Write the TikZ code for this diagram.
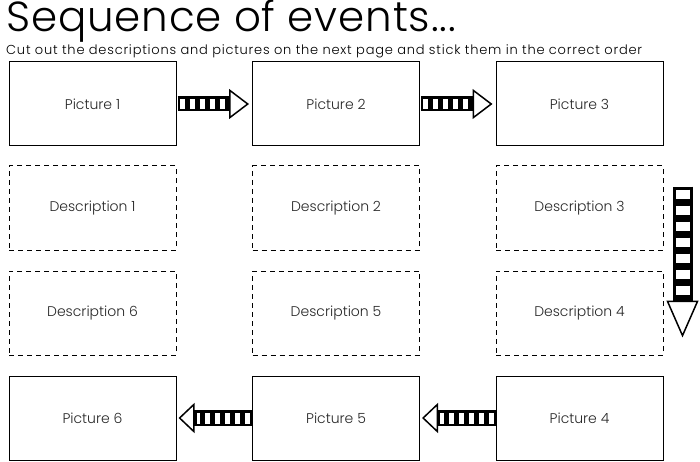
\documentclass[tikz,border=0pt]{standalone}
\usepackage{fontspec}
\setmainfont{Poppins Light}
\newfontfamily\titlefont[LetterSpace=2]{Poppins Light}
\newfontfamily\subtitlefont[LetterSpace=6]{Poppins Light}
\usetikzlibrary{calc,arrows.meta}

\begin{document}
\begin{tikzpicture}[x=1pt,y=1pt,picture/.style={draw,line width=1pt,minimum width=167pt,minimum height=84pt,font=\fontsize{14}{16}\selectfont,text=black!85},description/.style={picture,dash pattern=on 5pt off 4pt}, shaft/.style={line width=15pt}, stripes/.style={white,line width=10pt,dash pattern=on 5pt off 5pt}, head/.style={-{Triangle[length=20pt,width=30pt,fill=white,line width=1.5pt]}}]
  \useasboundingbox (0,0) rectangle (700,461);

  \node[anchor=base west,inner sep=0pt,font=\titlefont\fontsize{42}{42}\selectfont] (title) at (6,429) {Sequence of events...};
  \node[anchor=base west,inner sep=0pt,font=\subtitlefont\fontsize{13}{14}\selectfont] (subtitle) at (6,406) {Cut out the descriptions and pictures on the next page and stick them in the correct order};

  \node[picture] (pic1) at (92.5,357) {Picture 1};
  \node[picture] (pic2) at ($ (pic1) + (243.5,0) $) {Picture 2};
  \node[picture] (pic3) at ($ (pic2) + (243.5,0) $) {Picture 3};

  \node[description] (desc1) at ($ (pic1) + (0,-104) $) {Description 1};
  \node[description] (desc2) at ($ (pic2) + (0,-104) $) {Description 2};
  \node[description] (desc3) at ($ (pic3) + (0,-104) $) {Description 3};

  \node[description] (desc6) at ($ (desc1) + (0,-105) $) {Description 6};
  \node[description] (desc5) at ($ (desc2) + (0,-105) $) {Description 5};
  \node[description] (desc4) at ($ (desc3) + (0,-105) $) {Description 4};

  \node[picture] (pic6) at ($ (desc6) + (0,-105) $) {Picture 6};
  \node[picture] (pic5) at ($ (desc5) + (0,-105) $) {Picture 5};
  \node[picture] (pic4) at ($ (desc4) + (0,-105) $) {Picture 4};

  \coordinate (down top) at ($ (pic3.south east) + (19,-40) $);
  \coordinate (down tip) at ($ (desc4.south east) + (19,18) $);

  \draw[shaft,head] ($ (pic1.east) + (1,0) $) -- ($ (pic2.west) + (-3,0) $);
  \draw[stripes] ($ (pic1.east) + (3,0) $) -- ($ (pic2.west) + (-24,0) $);
  \draw[shaft,head] ($ (pic2.east) + (1,0) $) -- ($ (pic3.west) + (-3,0) $);
  \draw[stripes] ($ (pic2.east) + (3,0) $) -- ($ (pic3.west) + (-24,0) $);

  \draw[shaft,line width=20pt,-{Triangle[length=37pt,width=32pt,fill=white,line width=1.5pt]}] (down top) -- (down tip);
  \draw[stripes,line width=14pt,dash pattern=on 9pt off 7pt] ($ (down top) + (0,-3) $) -- ($ (down tip) + (0,40) $);

  \draw[shaft,line width=16pt,-{Triangle[length=16pt,width=30pt,fill=white,line width=1.5pt]}] (pic4.west) -- ($ (pic5.east) + (2,0) $);
  \draw[stripes,line width=11pt] ($ (pic4.west) + (-2,0) $) -- ($ (pic5.east) + (20,0) $);
  \draw[shaft,line width=16pt,-{Triangle[length=16pt,width=30pt,fill=white,line width=1.5pt]}] (pic5.west) -- ($ (pic6.east) + (2,0) $);
  \draw[stripes,line width=11pt] ($ (pic5.west) + (-2,0) $) -- ($ (pic6.east) + (20,0) $);
\end{tikzpicture}
\end{document}
